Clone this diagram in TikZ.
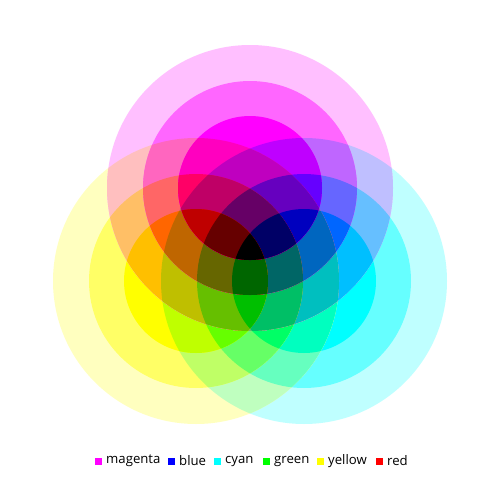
\documentclass[tikz,border=0pt]{standalone}
\usepackage{fontspec}
\setmainfont{Open Sans}
\usetikzlibrary{positioning}

\definecolor{magenta}{rgb}{1,0,1}
\definecolor{yellow}{rgb}{1,1,0}
\definecolor{cyan}{rgb}{0,1,1}

\tikzset{
    legsq/.style={minimum size=1.4mm, inner sep=0pt, draw=none},
    leglabel/.style={inner sep=0pt, font=\fontsize{7.5}{9}\selectfont}
}

\begin{document}
\begin{tikzpicture}[x=0.2mm, y=-0.2mm]

\fill[white] (0,0) rectangle (500,500);
\useasboundingbox (0,0) rectangle (500,500);

\node[anchor=base west, inner sep=0pt, font=\fontsize{9.5}{11}\selectfont] (sub) at (43,53) {subtractive};
\node[anchor=base west, inner sep=0pt, font=\fontsize{14}{16}\selectfont\bfseries] (cmy) at (42,77) {CMY};

% a = magenta ring, b = yellow ring, c = cyan ring (0 = outside)
\foreach \a in {0,...,3}{
  \foreach \b in {0,...,3}{
    \foreach \c in {0,...,3}{
      \pgfmathsetmacro\ra{{0,143,107,72}[\a]}
      \pgfmathsetmacro\rb{{0,143,107,72}[\b]}
      \pgfmathsetmacro\rc{{0,143,107,72}[\c]}
      \pgfmathsetmacro\gm{{1,0.75,0.4,0}[\a]}
      \pgfmathsetmacro\by{{1,0.75,0.4,0}[\b]}
      \pgfmathsetmacro\rcy{{1,0.75,0.4,0}[\c]}
      \definecolor{mix}{rgb}{\rcy,\gm,\by}
      \begin{scope}
        \ifnum\a>0 \clip (250,188) circle (\ra); \fi
        \ifnum\b>0 \clip (196,281) circle (\rb); \fi
        \ifnum\c>0 \clip (304,281) circle (\rc); \fi
        \fill[mix] (0,0) rectangle (500,500);
      \end{scope}
    }
  }
}

\foreach \name/\x in {magenta/98, blue/171, cyan/217, green/266, yellow/320, red/379}{
    \node[legsq, fill=\name] (sq-\name) at (\x,461) {};
    \node[leglabel, right=0.8mm of sq-\name] (lb-\name) {\name};
}

\end{tikzpicture}
\end{document}
